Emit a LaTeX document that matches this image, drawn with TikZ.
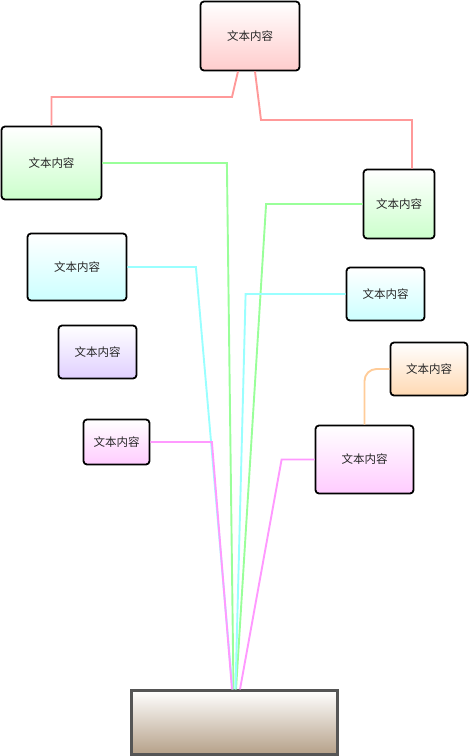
\documentclass[tikz,border=0pt]{standalone}
\usepackage{fontspec}
\newfontfamily\cjk{Noto Sans CJK SC}
\usetikzlibrary{calc}
\definecolor{cpink}{HTML}{FFCCCC}
\definecolor{cgreen}{HTML}{CCFFCC}
\definecolor{ccyan}{HTML}{CCFFFF}
\definecolor{cpurple}{HTML}{E0D0FF}
\definecolor{corange}{HTML}{FFD9B3}
\definecolor{cmagenta}{HTML}{FFCCFF}
\definecolor{lpink}{HTML}{FF9999}
\definecolor{lgreen}{HTML}{99FF99}
\definecolor{lcyan}{HTML}{99FFFF}
\definecolor{lmagenta}{HTML}{FF99FF}
\definecolor{lorange}{HTML}{FFCC99}
\definecolor{cbrown}{HTML}{B5A088}
\definecolor{cborder}{HTML}{555555}
\begin{document}
\begin{tikzpicture}[x=1pt,y=-1pt,
  box/.style={draw=black, line width=1.8pt, rounded corners=3.5pt, inner sep=0pt,
    font=\cjk\fontsize{11.5}{13}\selectfont, text=black!85, top color=white},
  conn/.style={line width=1.9pt}]
\useasboundingbox (0,0) rectangle (471,756);
% boxes
\node[box, bottom color=cpink, minimum width=99pt, minimum height=69pt] (t) at (250,36) {文本内容};
\node[box, bottom color=cgreen, minimum width=100pt, minimum height=73pt] (gl) at (51.5,163) {文本内容};
\node[box, bottom color=cgreen, minimum width=71pt, minimum height=69pt] (gr) at (399,204) {文本内容};
\node[box, bottom color=ccyan, minimum width=99pt, minimum height=67pt] (cl) at (77,267) {文本内容};
\node[box, bottom color=ccyan, minimum width=78pt, minimum height=53pt] (cr) at (385.5,294) {文本内容};
\node[box, bottom color=cpurple, minimum width=78pt, minimum height=53pt] (pu) at (97.5,352) {文本内容};
\node[box, bottom color=corange, minimum width=77pt, minimum height=53pt] (or) at (429,369) {文本内容};
\node[box, bottom color=cmagenta, minimum width=66pt, minimum height=45pt] (ml) at (116.5,442) {文本内容};
\node[box, bottom color=cmagenta, minimum width=98pt, minimum height=68pt] (mr) at (364.5,459.5) {文本内容};
\node[draw=cborder, line width=2.2pt, top color=white, bottom color=cbrown, inner sep=0pt,
  minimum width=206pt, minimum height=64pt] (base) at (234.5,722.5) {};
% connectors
\draw[conn, lpink] ($(t.south)+(-12,0)$) -- (232,97) -| (gl.north);
\draw[conn, lpink] ($(t.south)+(5,0)$) -- (261,120) -| ($(gr.north)+(13,0)$);
\draw[conn, lgreen] (gl.east) -- ++(124.5,0) -- ($(base.north)+(-1,0)$);
\draw[conn, lgreen] (gr.west) -- ++(-96.5,0) -- ($(base.north)+(1.5,0)$);
\draw[conn, lcyan] (cl.east) -- ++(68.5,0) -- ($(base.north)+(-2,0)$);
\draw[conn, lcyan] (cr.west) -- ++(-100,0) -- ($(base.north)+(1,0)$);
\draw[conn, lmagenta] (ml.east) -- ++(61.5,0) -- ($(base.north)+(-2.5,0)$);
\draw[conn, lmagenta] (mr.west) -- ++(-33,0) -- ($(base.north)+(5.5,0)$);
\draw[conn, lorange, rounded corners=12pt] (or.west) -| (mr.north);
\end{tikzpicture}
\end{document}
